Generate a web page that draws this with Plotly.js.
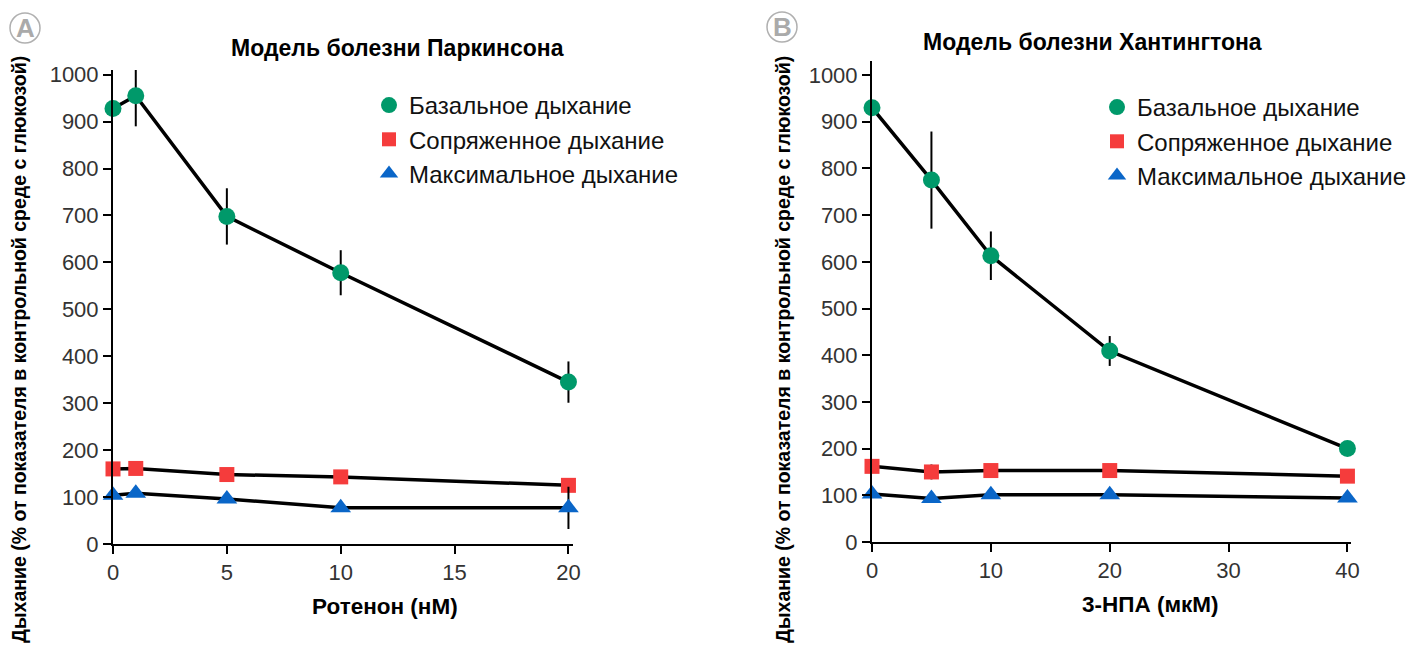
<!DOCTYPE html>
<html>
<head>
<meta charset="utf-8">
<script src="https://cdn.plot.ly/plotly-3.0.1.min.js"></script>
<style>html,body{margin:0;padding:0;background:#fff;}#chart{width:1416px;height:645px;}</style>
</head>
<body>
<div id="chart"></div>
<script>
// ---- Data ----
const seriesNames = ["Базальное дыхание", "Сопряженное дыхание", "Максимальное дыхание"];

// Panel A: Parkinson model (rotenone, nM)
const rotenoneX = [0, 1, 5, 10, 20];
const parkBasal = [928, 955, 698, 578, 345];
const parkBasalErr = [0, 65, 60, 48, 44];
const parkCoupled = [160, 161, 148, 143, 125];
const parkMaximal = [104, 108, 96, 77, 77];
const parkMaximalErr = [0, 0, 0, 0, 45];

// Panel B: Huntington model (3-NPA, µM)
const npaX = [0, 5, 10, 20, 40];
const huntBasal = [930, 775, 613, 409, 200];
const huntBasalErr = [0, 104, 52, 32, 14];
const huntCoupled = [162, 150, 153, 153, 141];
const huntCoupledErr = [0, 16, 0, 0, 12];
const huntMaximal = [103, 93, 101, 101, 94];

const panelTitles = ["Модель болезни Паркинсона", "Модель болезни Хантингтона"];
const xTitles = ["Ротенон (нМ)", "3-НПА (мкМ)"];
const yTitle = "Дыхание (% от показателя в контрольной среде с глюкозой)";
const panelLetters = ["A", "B"];

// ---- Styles ----
const FONT = "Liberation Sans, Arial, sans-serif";
const colors = ["#00996a", "#f53c3c", "#0a66c8"];
const symbols = ["circle", "square", "triangle-up"];
const sizes = [17, 15, 18];

function dataTrace(x, y, err, idx, xa, ya) {
  const t = {
    x: x, y: y, xaxis: xa, yaxis: ya, type: "scatter", mode: "lines+markers",
    showlegend: false, cliponaxis: false,
    line: {color: "#000", width: 3.5},
    marker: {color: colors[idx], symbol: symbols[idx], size: sizes[idx]}
  };
  if (err) {
    t.error_y = {type: "data", array: err, visible: true, color: "#000", thickness: 2, width: 0};
  }
  return t;
}
function legendTrace(idx, legend) {
  return {
    x: [null], y: [null], type: "scatter", mode: "markers", name: seriesNames[idx],
    legend: legend, legendgroup: legend + idx, xaxis: legend === "legend" ? "x" : "x2", yaxis: legend === "legend" ? "y" : "y2",
    marker: {color: colors[idx], symbol: symbols[idx], size: sizes[idx] - 1}
  };
}

const traces = [
  dataTrace(rotenoneX, parkCoupled, null, 1, "x", "y"),
  dataTrace(rotenoneX, parkMaximal, parkMaximalErr, 2, "x", "y"),
  dataTrace(rotenoneX, parkBasal, parkBasalErr, 0, "x", "y"),
  dataTrace(npaX, huntCoupled, huntCoupledErr, 1, "x2", "y2"),
  dataTrace(npaX, huntMaximal, null, 2, "x2", "y2"),
  dataTrace(npaX, huntBasal, huntBasalErr, 0, "x2", "y2"),
  legendTrace(0, "legend"), legendTrace(1, "legend"), legendTrace(2, "legend"),
  legendTrace(0, "legend2"), legendTrace(1, "legend2"), legendTrace(2, "legend2")
];

const axisCommon = {
  showgrid: false, zeroline: false, showline: true, linecolor: "#000", linewidth: 2,
  ticks: "outside", ticklen: 8, tickwidth: 2, tickcolor: "#000",
  tickfont: {family: FONT, size: 22, color: "#333"}, fixedrange: true
};

const legendCommon = {
  font: {family: FONT, size: 24, color: "#111"}, bgcolor: "rgba(0,0,0,0)",
  tracegroupgap: 0, itemwidth: 30, xanchor: "left", yanchor: "top"
};

const W = 1416, H = 645;
const layout = {
  width: W, height: H,
  margin: {l: 0, r: 0, t: 0, b: 0},
  paper_bgcolor: "#fff", plot_bgcolor: "#fff",
  font: {family: FONT},
  xaxis: Object.assign({}, axisCommon, {domain: [113 / W, 573 / W], range: [0, 20.2], dtick: 5, tick0: 0, anchor: "y"}),
  yaxis: Object.assign({}, axisCommon, {domain: [1 - 544 / H, 1 - 70 / H], range: [0, 1010], dtick: 100, tick0: 0, anchor: "x"}),
  xaxis2: Object.assign({}, axisCommon, {domain: [872 / W, 1351 / W], range: [0, 40.3], dtick: 10, tick0: 0, anchor: "y2"}),
  yaxis2: Object.assign({}, axisCommon, {domain: [1 - 542 / H, 1 - 61 / H], range: [0, 1030], dtick: 100, tick0: 0, anchor: "x2"}),
  legend: Object.assign({}, legendCommon, {x: 369 / W, y: 1 - 83 / H}),
  legend2: Object.assign({}, legendCommon, {x: 1097 / W, y: 1 - 85 / H}),
  annotations: [
    {text: "<b>" + panelTitles[0] + "</b>", xref: "paper", yref: "paper", x: 397 / W, y: 1 - 48 / H, showarrow: false, font: {family: FONT, size: 23, color: "#000"}, xanchor: "center", yanchor: "middle"},
    {text: "<b>" + panelTitles[1] + "</b>", xref: "paper", yref: "paper", x: 1092 / W, y: 1 - 42 / H, showarrow: false, font: {family: FONT, size: 23, color: "#000"}, xanchor: "center", yanchor: "middle"},
    {text: "<b>" + xTitles[0] + "</b>", xref: "paper", yref: "paper", x: 385 / W, y: 1 - 606 / H, showarrow: false, font: {family: FONT, size: 22.5, color: "#000"}, xanchor: "center", yanchor: "middle"},
    {text: "<b>" + xTitles[1] + "</b>", xref: "paper", yref: "paper", x: 1150 / W, y: 1 - 604 / H, showarrow: false, font: {family: FONT, size: 22.5, color: "#000"}, xanchor: "center", yanchor: "middle"},
    {text: "<b>" + yTitle + "</b>", xref: "paper", yref: "paper", x: 19 / W, y: 1 - 350 / H, textangle: -90, showarrow: false, font: {family: FONT, size: 19.5, color: "#000"}, xanchor: "center", yanchor: "middle"},
    {text: "<b>" + yTitle + "</b>", xref: "paper", yref: "paper", x: 783 / W, y: 1 - 350 / H, textangle: -90, showarrow: false, font: {family: FONT, size: 19.5, color: "#000"}, xanchor: "center", yanchor: "middle"},
    {text: "<b>" + panelLetters[0] + "</b>", xref: "paper", yref: "paper", x: 25 / W, y: 1 - 28 / H, showarrow: false, font: {family: FONT, size: 26, color: "#aaa"}, xanchor: "center", yanchor: "middle"},
    {text: "<b>" + panelLetters[1] + "</b>", xref: "paper", yref: "paper", x: 782 / W, y: 1 - 27 / H, showarrow: false, font: {family: FONT, size: 26, color: "#aaa"}, xanchor: "center", yanchor: "middle"}
  ],
  shapes: [
    {type: "circle", xref: "paper", yref: "paper", x0: 10 / W, x1: 40 / W, y0: 1 - 43 / H, y1: 1 - 13 / H, line: {color: "#b0b0b0", width: 1.5}},
    {type: "circle", xref: "paper", yref: "paper", x0: 767 / W, x1: 797 / W, y0: 1 - 42 / H, y1: 1 - 12 / H, line: {color: "#b0b0b0", width: 1.5}}
  ]
};

Plotly.newPlot("chart", traces, layout, {displayModeBar: false, staticPlot: true});
</script>
</body>
</html>
